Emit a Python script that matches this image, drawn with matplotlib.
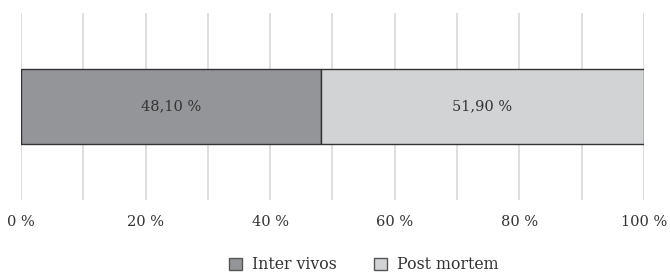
import matplotlib.pyplot as plt

plt.rcParams['font.family'] = ['DejaVu Serif']

labels = ['Inter vivos', 'Post mortem']
values = [48.10, 51.90]
colors = ['#939598', '#d1d3d4']

fig = plt.figure(figsize=(6.7, 2.73), dpi=100)
ax = fig.add_axes([0.0313, 0.267, 0.9297, 0.685])

left = 0
for lab, v, c in zip(labels, values, colors):
    ax.barh(0, v, left=left, height=0.81, color=c, edgecolor='#333333',
            linewidth=1.0, label=lab, zorder=3)
    ax.text(left + v / 2, 0, ('%.2f %%' % v).replace('.', ','), ha='center',
            va='center', fontsize=10.5, color='#333333', zorder=4)
    left += v

ax.set_xlim(0, 100)
ax.set_ylim(-1, 1)
ax.set_xticks(range(0, 101, 10))
ax.set_xticklabels(['%d %%' % t if t % 20 == 0 else '' for t in range(0, 101, 10)])
ax.set_yticks([])
ax.grid(axis='x', color='#d9d9d9', linewidth=1.2, zorder=0)
ax.tick_params(axis='x', length=0, pad=11, labelsize=10.5, colors='#333333')
for s in ax.spines.values():
    s.set_visible(False)

h, l = ax.get_legend_handles_labels()
leg = fig.legend(h, l, loc='center', bbox_to_anchor=(0.543, 0.03), ncol=2, frameon=False,
                 fontsize=11.3, handlelength=0.8, handleheight=0.8, handletextpad=0.65,
                 columnspacing=2.4, labelcolor='#333333', borderpad=0)
for p in leg.get_patches():
    p.set_edgecolor('#555555')

fig.savefig('out.png')
